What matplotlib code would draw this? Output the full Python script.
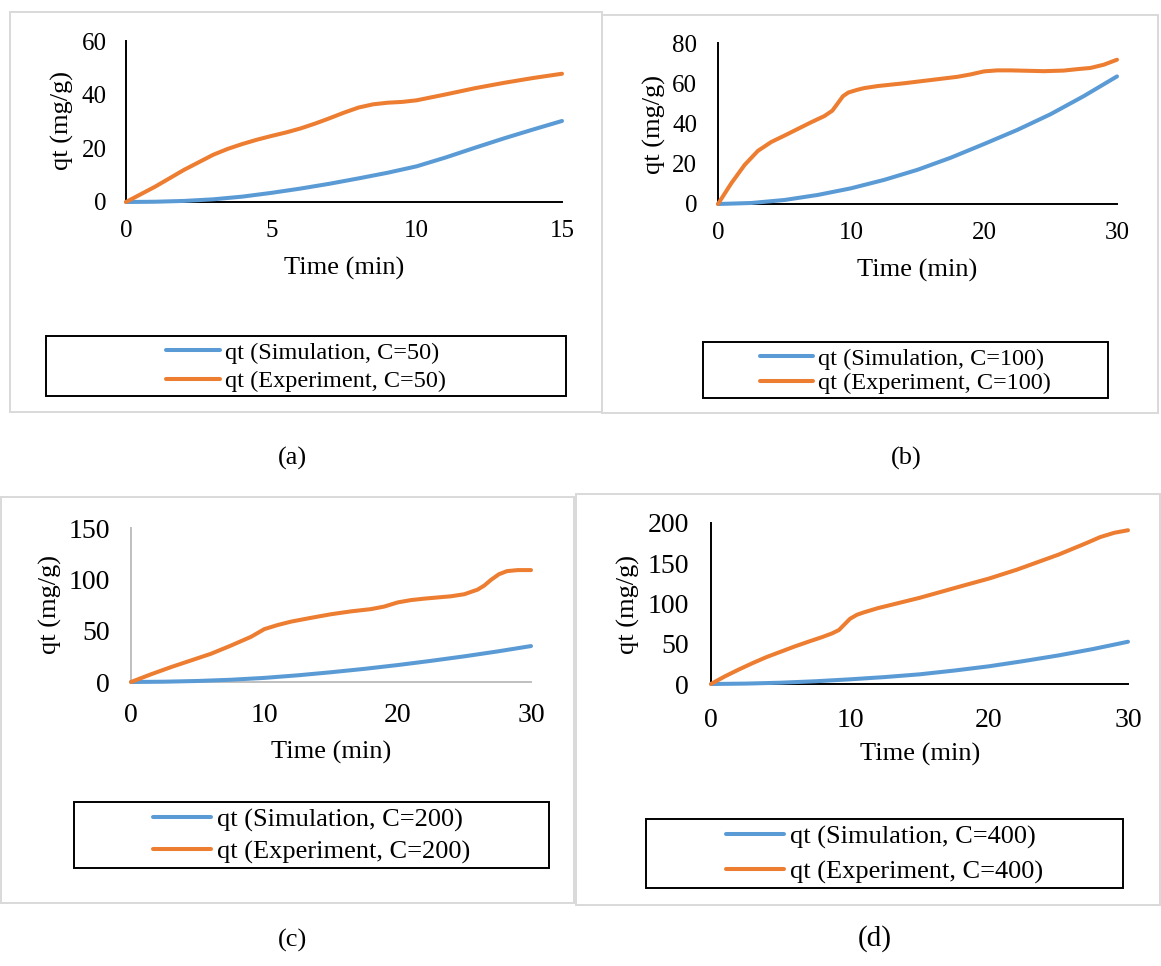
import matplotlib
matplotlib.use("Agg")
import matplotlib.pyplot as plt
from matplotlib.patches import Rectangle

plt.rcParams['font.family'] = ['Liberation Serif', 'DejaVu Serif']

W, H = 1161, 966
BLUE = '#5B9BD5'
ORANGE = '#ED7D31'

# ---------------- data ----------------
# (a) C = 50
t_sim_a = [0, 1, 2, 3, 4, 5, 6, 7, 8, 9, 10, 11, 12, 13, 14, 15]
q_sim_a = [0, 0.1, 0.4, 1.0, 2.0, 3.4, 5.0, 6.8, 8.8, 10.9, 13.3, 16.6, 20.2, 23.7, 27.0, 30.2]
t_exp_a = [0, 1, 2, 3, 3.5, 4, 4.5, 5, 5.5, 6, 6.5, 7, 7.5, 8, 8.5, 9, 9.5, 10, 11, 12, 13, 14, 15]
q_exp_a = [0, 5.7, 12.0, 17.6, 19.8, 21.6, 23.2, 24.6, 25.9, 27.4, 29.2, 31.2, 33.3, 35.2, 36.4, 37.0,
           37.3, 37.9, 40.1, 42.4, 44.4, 46.2, 47.8]

# (b) C = 100
t_sim_b = [0, 2.5, 5, 7.5, 10, 12.5, 15, 17.5, 20, 22.5, 25, 27.5, 30]
q_sim_b = [0, 0.5, 2.0, 4.5, 7.8, 12.0, 17.0, 23.0, 29.8, 36.8, 44.6, 53.6, 63.4]
t_exp_b = [0, 1, 2, 3, 4, 5, 6, 7, 8, 8.6, 9, 9.4, 9.8, 10.5, 11, 12, 14, 16, 18, 19, 20, 21, 22,
           24.5, 26, 27, 28, 29, 30]
q_exp_b = [0, 10.3, 19.4, 26.4, 30.8, 34.0, 37.3, 40.6, 43.7, 46.4, 50.0, 53.6, 55.4, 56.8, 57.6,
           58.6, 60.0, 61.6, 63.2, 64.4, 65.9, 66.4, 66.4, 66.0, 66.3, 67.0, 67.6, 69.2, 71.7]

# (c) C = 200
t_sim_c = [0, 2.5, 5, 7.5, 10, 12.5, 15, 17.5, 20, 22.5, 25, 27.5, 30]
q_sim_c = [0, 0.3, 1.0, 2.2, 4.0, 6.5, 9.5, 12.8, 16.5, 20.6, 25.0, 29.8, 35.0]
t_exp_c = [0, 1.5, 3, 4.5, 6, 7.5, 9, 10, 11, 12, 13.5, 15, 16.5, 18, 19, 20, 21, 22, 24, 25, 26,
           26.5, 27, 27.6, 28.2, 29, 30]
q_exp_c = [0, 7.5, 14.5, 21, 27.5, 35.5, 44, 51.5, 55.5, 58.8, 62.5, 66, 68.8, 71, 73.5, 77.5, 79.8,
           81.2, 83.5, 85.5, 90, 94, 99.5, 105, 108, 109, 109]

# (d) C = 400
t_sim_d = [0, 2.5, 5, 7.5, 10, 12.5, 15, 17.5, 20, 22.5, 25, 27.5, 30]
q_sim_d = [0, 0.5, 1.6, 3.4, 5.8, 8.6, 12.0, 16.7, 22.0, 28.5, 35.5, 43.5, 52.5]
t_exp_d = [0, 1, 2, 3, 4, 5, 6, 7, 8, 8.7, 9.2, 9.6, 10, 10.5, 11, 12, 15, 18, 20, 22, 25, 27,
           28, 29, 30]
q_exp_d = [0, 9.5, 18, 26, 33.5, 40, 46.5, 52.5, 58.3, 62.8, 67, 74, 81, 86, 89, 94.2, 107,
           121.5, 131, 142, 160.7, 175, 182.5, 187.8, 191]

concs = ['50', '100', '200', '400']
panel_labels = ['(a)', '(b)', '(c)', '(d)']
xticks_list = [[0, 5, 10, 15], [0, 10, 20, 30], [0, 10, 20, 30], [0, 10, 20, 30]]
yticks_list = [[0, 20, 40, 60], [0, 20, 40, 60, 80], [0, 50, 100, 150], [0, 50, 100, 150, 200]]

series = [
    (t_sim_a, q_sim_a, t_exp_a, q_exp_a),
    (t_sim_b, q_sim_b, t_exp_b, q_exp_b),
    (t_sim_c, q_sim_c, t_exp_c, q_exp_c),
    (t_sim_d, q_sim_d, t_exp_d, q_exp_d),
]

# ---------------- layout (pixels) ----------------
axes_px = [(126, 562, 41, 202), (718, 1117, 43, 204), (131, 531, 528, 682), (711, 1128, 523, 684)]
box_px = [(10, 602, 12, 412), (602, 1158, 15, 413), (1, 574, 497, 903), (576, 1160, 494, 905)]
legend_box_px = [(46, 566, 336, 396), (703, 1108, 342, 398), (74, 549, 802, 868), (646, 1123, 819, 888)]
ylabel_px = [(62, 121), (654, 125), (50, 605), (628, 604)]
xlabel_px = [(344, 268), (917, 270), (331, 752), (920, 754)]
plabel_px = [(292, 458), (906, 458), (292, 940), (875, 939)]
spine_colors = ['black', 'black', '#BFBFBF', 'black']
tick_fs = [18, 18, 20, 20]
xpad = [13, 13, 15, 17]
ypad = [14, 15, 15, 16]
leg_fs = [17.5, 17.5, 19, 19]
leg_sp = [0.25, 0.12, 0.3, 0.42]
plabel_fs = [19, 19, 19, 21]


def fx(x):
    return x / W


def fy(y):
    return 1 - y / H


fig = plt.figure(figsize=(W / 100, H / 100), dpi=100)
fig.patch.set_facecolor('white')

for i in range(4):
    # panel border
    bx0, bx1, by0, by1 = box_px[i]
    fig.add_artist(Rectangle((fx(bx0), fy(by1)), (bx1 - bx0) / W, (by1 - by0) / H,
                             transform=fig.transFigure, fill=False, ec='#D9D9D9', lw=1.4))

    x0, x1, yt, yb = axes_px[i]
    ax = fig.add_axes([fx(x0), fy(yb), (x1 - x0) / W, (yb - yt) / H])
    ts, qs, te, qe = series[i]
    ax.plot(ts, qs, color=BLUE, lw=2.9, solid_joinstyle='round', solid_capstyle='round',
            clip_on=False, zorder=3, label=f'qt (Simulation, C={concs[i]})')
    ax.plot(te, qe, color=ORANGE, lw=2.9, solid_joinstyle='round', solid_capstyle='round',
            clip_on=False, zorder=3, label=f'qt (Experiment, C={concs[i]})')
    xt = xticks_list[i]
    yt_ = yticks_list[i]
    ax.set_xlim(xt[0], xt[-1])
    ax.set_ylim(yt_[0], yt_[-1])
    ax.set_xticks(xt)
    ax.set_yticks(yt_)
    for s in ['top', 'right']:
        ax.spines[s].set_visible(False)
    for s in ['left', 'bottom']:
        ax.spines[s].set_color(spine_colors[i])
        ax.spines[s].set_linewidth(1.4)
    ax.tick_params(axis='both', length=0, labelsize=tick_fs[i])
    ax.tick_params(axis='x', pad=xpad[i])
    ax.tick_params(axis='y', pad=ypad[i])
    ax.patch.set_alpha(0)

    # axis titles
    lx, ly = ylabel_px[i]
    fig.text(fx(lx), fy(ly), 'qt (mg/g)', rotation=90, ha='center', va='center', fontsize=19)
    tx, ty = xlabel_px[i]
    fig.text(fx(tx), fy(ty), 'Time (min)', ha='center', va='center', fontsize=19)

    # legend with frame box
    lx0, lx1, ly0, ly1 = legend_box_px[i]
    fig.add_artist(Rectangle((fx(lx0), fy(ly1)), (lx1 - lx0) / W, (ly1 - ly0) / H,
                             transform=fig.transFigure, fill=False, ec='black', lw=1.4))
    h, l = ax.get_legend_handles_labels()
    ax.legend(h, l, loc='center', bbox_to_anchor=(fx((lx0 + lx1) / 2), fy((ly0 + ly1) / 2 + 1)),
              bbox_transform=fig.transFigure, frameon=False, fontsize=leg_fs[i],
              handlelength=2.2, handletextpad=0.2, labelspacing=leg_sp[i], borderpad=0)

    # panel label
    px_, py_ = plabel_px[i]
    fig.text(fx(px_), fy(py_), panel_labels[i], ha='center', va='center', fontsize=plabel_fs[i])

fig.savefig('out.png', dpi=100, facecolor='white')
